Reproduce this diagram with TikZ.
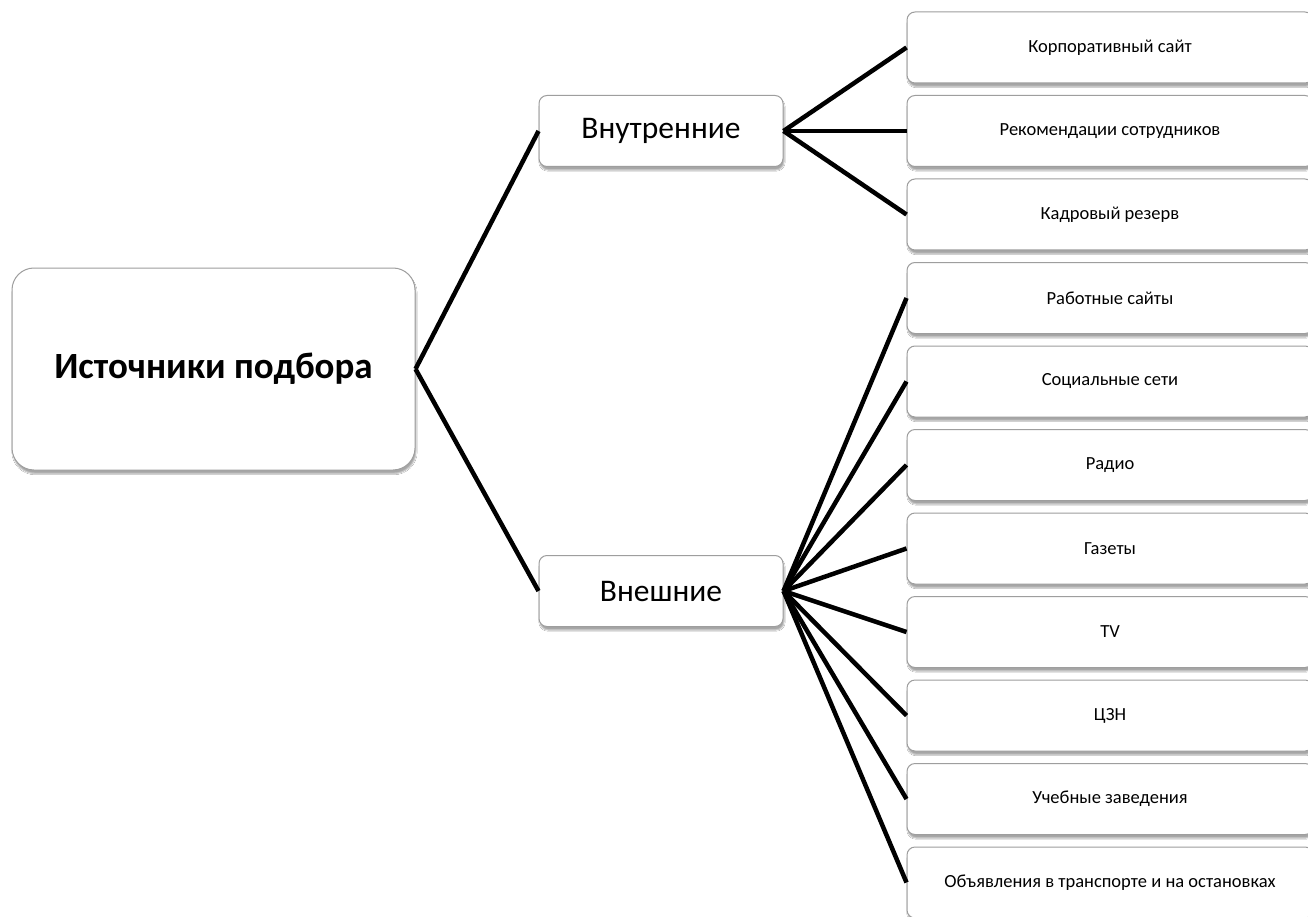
\documentclass[tikz,border=0pt]{standalone}
\usepackage{fontspec}
\setmainfont{Carlito}
\usetikzlibrary{shadows.blur}
\begin{document}
\begin{tikzpicture}[x=1pt,y=-1pt,
  boxbase/.style={rectangle, draw=black!38, line width=1pt, fill=white, inner sep=0pt,
    blur shadow={shadow xshift=1pt, shadow yshift=-3.5pt, shadow blur radius=1.2pt, shadow opacity=35, shadow blur steps=5}},
  rootbox/.style={boxbase, rounded corners=22pt, minimum width=403pt, minimum height=202pt,
    font=\fontsize{37}{42}\selectfont\bfseries},
  midbox/.style={boxbase, rounded corners=8pt, minimum width=244pt, minimum height=71pt,
    font=\fontsize{31.5}{36}\selectfont},
  leafbox/.style={boxbase, rounded corners=8pt, minimum width=406pt, minimum height=71pt,
    font=\fontsize{18.5}{22}\selectfont},
  conn/.style={draw=black, line width=4.5pt}]
\useasboundingbox (0,0) rectangle (1308,917);
\fill[white] (0,0) rectangle (1308,917);

\node[rootbox] (root) at (213.5,369) {Источники подбора};
\node[midbox] (int) at (661,131) {Внутренние};
\node[midbox] (ext) at (661,591) {Внешние};

\node[leafbox] (l0) at (1110,47.5) {Корпоративный сайт};
\node[leafbox] (l1) at (1110,131) {Рекомендации сотрудников};
\node[leafbox] (l2) at (1110,214.5) {Кадровый резерв};
\node[leafbox] (l3) at (1110,298) {Работные сайты};
\node[leafbox] (l4) at (1110,381.5) {Социальные сети};
\node[leafbox] (l5) at (1110,465) {Радио};
\node[leafbox] (l6) at (1110,548.5) {Газеты};
\node[leafbox] (l7) at (1110,632) {TV};
\node[leafbox] (l8) at (1110,715.5) {ЦЗН};
\node[leafbox] (l9) at (1110,799) {Учебные заведения};
\node[leafbox] (l10) at (1110,882.5) {Объявления в транспорте и на остановках};

\draw[conn] (root.east) -- (int.west);
\draw[conn] (root.east) -- (ext.west);
\foreach \i in {0,1,2} { \draw[conn] (int.east) -- (l\i.west); }
\foreach \i in {3,...,10} { \draw[conn] (ext.east) -- (l\i.west); }
\end{tikzpicture}
\end{document}
